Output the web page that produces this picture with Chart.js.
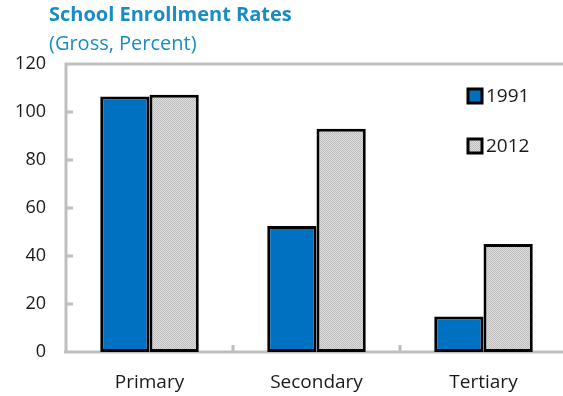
<!DOCTYPE html>
<html>
<head>
<meta charset="utf-8">
<script src="https://cdn.jsdelivr.net/npm/chart.js@4"></script>
<style>
  html, body { margin: 0; padding: 0; background: #fff; overflow: hidden; }
  #wrap { width: 568px; height: 396px; position: relative; }
</style>
</head>
<body>
<div id="wrap"><canvas id="enrollment"></canvas></div>
<script>
const categories = ['Primary', 'Secondary', 'Tertiary'];
const rates1991 = [106.5, 52.5, 14.8];
const rates2012 = [107.2, 93.0, 45.0];
const yTicks = [0, 20, 40, 60, 80, 100, 120];

const FONT = '"Open Sans", "Noto Sans", sans-serif';
const AXIS_GRAY = '#bfbfbf';
const TITLE_BLUE = '#1a8cc4';

// fine dotted gray fill used by the 2012 bars
function dotPattern() {
  const c = document.createElement('canvas');
  c.width = 2; c.height = 2;
  const g = c.getContext('2d');
  g.fillStyle = '#dedede'; g.fillRect(0, 0, 2, 2);
  g.fillStyle = '#bdbdbd'; g.fillRect(0, 0, 1, 1); g.fillRect(1, 1, 1, 1);
  return g.createPattern(c, 'repeat');
}
const grayFill = dotPattern();

// titles, frame, inward tick marks and the in-plot legend
const decorations = {
  id: 'decorations',
  beforeDatasetsDraw(chart) {
    const { ctx, chartArea: a, scales: { x, y } } = chart;
    ctx.save();
    ctx.strokeStyle = AXIS_GRAY;
    ctx.lineWidth = 3;
    ctx.beginPath();
    ctx.moveTo(a.left, a.bottom);
    ctx.lineTo(a.left, a.top);
    ctx.lineTo(a.right + 5, a.top);
    ctx.moveTo(a.left - 2, a.bottom);
    ctx.lineTo(a.right + 5, a.bottom);
    yTicks.forEach(v => {
      if (v === 0 || v === 120) return;
      const py = y.getPixelForValue(v);
      ctx.moveTo(a.left, py);
      ctx.lineTo(a.left + 7, py);
    });
    for (let i = 0; i < categories.length - 1; i++) {
      const px = (x.getPixelForValue(i) + x.getPixelForValue(i + 1)) / 2;
      ctx.moveTo(px, a.bottom);
      ctx.lineTo(px, a.bottom - 7);
    }
    ctx.stroke();
    ctx.restore();
  },
  afterDraw(chart) {
    const { ctx, chartArea: a } = chart;
    ctx.save();
    ctx.fillStyle = TITLE_BLUE;
    ctx.textBaseline = 'middle';
    ctx.textAlign = 'left';
    ctx.font = 'bold 20px ' + FONT;
    ctx.fillText('School Enrollment Rates', 49, 15);
    ctx.font = '20px ' + FONT;
    ctx.fillText('(Gross, Percent)', 49, 44);

    const rows = [96, 146];
    chart.data.datasets.forEach((ds, i) => {
      const bx = a.right - 99, by = rows[i] - 7;
      ctx.fillStyle = ds.backgroundColor;
      ctx.fillRect(bx, by, 14, 14);
      ctx.strokeStyle = '#000';
      ctx.lineWidth = 3;
      ctx.strokeRect(bx, by, 14, 14);
      ctx.fillStyle = '#1a1a1a';
      ctx.font = '19px ' + FONT;
      ctx.fillText(ds.label, bx + 18, rows[i] + 1);
    });
    ctx.restore();
  }
};

new Chart(document.getElementById('enrollment'), {
  type: 'bar',
  data: {
    labels: categories,
    datasets: [
      {
        label: '1991',
        data: rates1991,
        backgroundColor: '#0070c0',
        borderColor: '#000',
        borderWidth: 3,
        borderSkipped: false,
      },
      {
        label: '2012',
        data: rates2012,
        backgroundColor: grayFill,
        borderColor: '#000',
        borderWidth: 3,
        borderSkipped: false,
      },
    ],
  },
  options: {
    responsive: true,
    maintainAspectRatio: false,
    animation: false,
    layout: { padding: { top: 64, right: 1, left: 0, bottom: 0 } },
    datasets: { bar: { categoryPercentage: 0.59, barPercentage: 1 } },
    scales: {
      x: {
        grid: { display: false, drawTicks: false },
        border: { display: false },
        ticks: { color: '#1a1a1a', padding: 19, font: { family: FONT, size: 19 } },
        afterFit: (s) => { s.height = 44; },
      },
      y: {
        min: 0,
        max: 120,
        afterBuildTicks: (s) => { s.ticks = yTicks.map(v => ({ value: v })); },
        grid: { display: false, drawTicks: false },
        border: { display: false },
        ticks: { color: '#1a1a1a', padding: 20, font: { family: FONT, size: 18 } },
        afterFit: (s) => { s.width = 66; },
      },
    },
    plugins: {
      legend: { display: false },
      tooltip: { enabled: false },
    },
  },
  plugins: [decorations],
});
</script>
</body>
</html>
